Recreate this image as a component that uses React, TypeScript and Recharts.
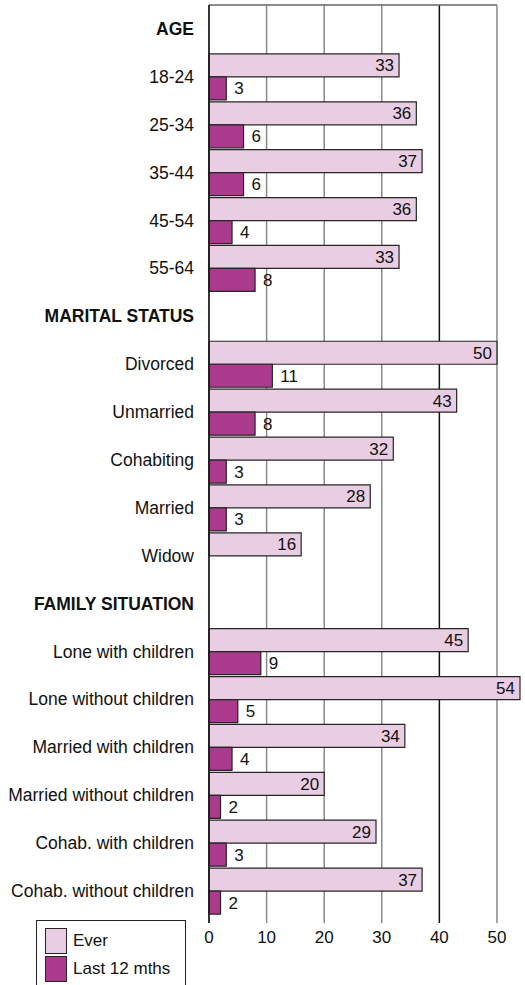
import React from 'react';
import { BarChart, Bar, XAxis, YAxis, CartesianGrid, LabelList, Legend, ReferenceLine } from 'recharts';

const categories = [
  'AGE', '18-24', '25-34', '35-44', '45-54', '55-64',
  'MARITAL STATUS', 'Divorced', 'Unmarried', 'Cohabiting', 'Married', 'Widow',
  'FAMILY SITUATION', 'Lone with children', 'Lone without children', 'Married with children',
  'Married without children', 'Cohab. with children', 'Cohab. without children',
];
const everValues = [null, 33, 36, 37, 36, 33, null, 50, 43, 32, 28, 16, null, 45, 54, 34, 20, 29, 37];
const last12Values = [null, 3, 6, 6, 4, 8, null, 11, 8, 3, 3, null, null, 9, 5, 4, 2, 3, 2];
const headers = ['AGE', 'MARITAL STATUS', 'FAMILY SITUATION'];
const xTicks = [0, 10, 20, 30, 40, 50];
const darkGridValue = 40;

const FONT = '"Liberation Sans", Arial, Helvetica, sans-serif';
const COLORS = { ever: '#e9cde2', last: '#aa3a8b', edge: '#262626', grid: '#8a8a8a' };

const rows = categories.map((name, i) => ({ name, ever: everValues[i], last: last12Values[i] }));

const CategoryTick = (props: any) => {
  const { x, y, payload } = props;
  const bold = headers.includes(payload.value);
  return (
    <text x={x} y={y} dy={6} textAnchor="end" fontSize={17.5} fontFamily={FONT}
      fontWeight={bold ? 700 : 400} fill="#111">
      {payload.value}
    </text>
  );
};

// one grid line per x tick; the 40 line is black in the original
const GridLine = (props: any) => {
  const { x1, y1, x2, y2, index } = props;
  const dark = xTicks[index] === darkGridValue;
  return <line x1={x1} y1={y1} x2={x2} y2={y2} stroke={dark ? '#111' : COLORS.grid} strokeWidth={1.5} />;
};

const renderLegend = (props: any) => (
  <div style={{
    width: 150, height: 65, boxSizing: 'border-box', border: '1.5px solid #222', borderBottom: 'none',
    padding: '6px 0 0 8px', fontFamily: FONT,
  }}>
    {(props.payload || []).map((entry: any) => (
      <div key={entry.value} style={{ display: 'flex', alignItems: 'center', height: 28 }}>
        <span style={{
          display: 'inline-block', width: 22, height: 26, boxSizing: 'border-box',
          background: entry.color, border: `1.5px solid ${COLORS.edge}`, marginRight: 6,
        }} />
        <span style={{ fontSize: 17, color: '#111' }}>{entry.value}</span>
      </div>
    ))}
  </div>
);

const App: React.FC = () => (
  <div style={{ position: 'absolute', left: 0, top: 0, width: 525, height: 985, overflow: 'hidden', background: '#fff' }}>
    <BarChart
      width={525}
      height={985}
      data={rows}
      layout="vertical"
      margin={{ top: 5, right: 5, left: 0, bottom: 32 }}
      barGap={0}
      barSize={23}
    >
      <CartesianGrid vertical={GridLine} horizontal={false} syncWithTicks />
      <XAxis
        type="number"
        domain={[0, 54]}
        ticks={xTicks}
        axisLine={false}
        tickLine={false}
        tickSize={0}
        tickMargin={8}
        height={30}
        tick={{ fontSize: 17, fill: '#111', fontFamily: FONT }}
      />
      <YAxis
        type="category"
        dataKey="name"
        width={209}
        interval={0}
        axisLine={{ stroke: '#111', strokeWidth: 1.5 }}
        tickLine={false}
        tickSize={0}
        tickMargin={15}
        padding={{ top: 0, bottom: 8 }}
        tick={<CategoryTick />}
      />
      <YAxis yAxisId="base" type="number" domain={[0, 1]} hide />
      <ReferenceLine
        yAxisId="base"
        segment={[{ x: 0, y: 0 }, { x: 50, y: 0 }]}
        stroke="#666"
        strokeWidth={1.5}
      />
      <Legend
        layout="vertical"
        align="center"
        verticalAlign="middle"
        content={renderLegend}
        wrapperStyle={{ position: 'absolute', left: 36, top: 920, width: 150, height: 65 }}
      />
      <Bar dataKey="ever" name="Ever" fill={COLORS.ever} stroke={COLORS.edge} strokeWidth={1.2} isAnimationActive={false}>
        <LabelList dataKey="ever" position="insideRight" offset={5} fill="#111" fontSize={17} fontFamily={FONT} />
      </Bar>
      <Bar dataKey="last" name="Last 12 mths" fill={COLORS.last} stroke={COLORS.edge} strokeWidth={1.2} isAnimationActive={false}>
        <LabelList dataKey="last" position="right" offset={8} fill="#111" fontSize={17} fontFamily={FONT} />
      </Bar>
    </BarChart>
  </div>
);

export default App;
